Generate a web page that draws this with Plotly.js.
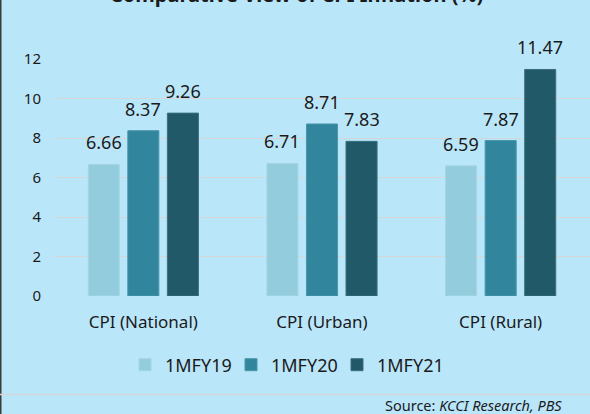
<!DOCTYPE html>
<html>
<head>
<meta charset="utf-8">
<script src="https://cdn.plot.ly/plotly-3.0.1.min.js"></script>
<style>html,body{margin:0;padding:0;background:#bae6fa;}#chart{width:590px;height:414px;}</style>
</head>
<body>
<div id="chart"></div>
<script>
const categories = ['CPI (National)', 'CPI (Urban)', 'CPI (Rural)'];
const seriesNames = ['1MFY19', '1MFY20', '1MFY21'];
const fy19 = [6.66, 6.71, 6.59];
const fy20 = [8.37, 8.71, 7.87];
const fy21 = [9.26, 7.83, 11.47];
const yTicks = [0, 2, 4, 6, 8, 10, 12];
const titleText = 'Comparative View of CPI Inflation (%)';
const sourcePrefix = 'Source: ';
const sourceText = 'KCCI Research, PBS';

const colors = ['#93cddd', '#31859c', '#215968'];
const edge = ['#a6d6e4', '#4a97ab', '#3a6f7d'];
const allSeries = [fy19, fy20, fy21];

const W = 590, H = 414;
const margin = {l: 54, r: 0, t: 59, b: 118};
const plotW = W - margin.l - margin.r;
const plotH = H - margin.t - margin.b;
const bargap = 0.336, bargroupgap = 0.215;
const FONT = '"Noto Sans", "Open Sans", sans-serif';

const px2x = p => (p - margin.l) / plotW;
const px2y = p => (H - margin.b - p) / plotH;

const traces = allSeries.map((vals, i) => ({
  type: 'bar',
  name: seriesNames[i],
  x: categories,
  y: vals,
  marker: {color: colors[i], line: {color: edge[i], width: 1}},
  hoverinfo: 'none'
}));

// data labels via annotations positioned on the data
const catW = plotW / categories.length;
const slot = catW * (1 - bargap) / allSeries.length;
const annotations = [];
allSeries.forEach((vals, i) => {
  vals.forEach((v, j) => {
    annotations.push({
      x: categories[j], y: v, xref: 'x', yref: 'y',
      text: v.toFixed(2), showarrow: false,
      xanchor: 'center', yanchor: 'bottom',
      xshift: (i - (allSeries.length - 1) / 2) * slot,
      yshift: 8,
      font: {family: FONT, size: 18, color: '#1a1a1a'}
    });
  });
});
annotations.push({
  xref: 'paper', yref: 'paper', x: px2x(296), y: px2y(10.5),
  xanchor: 'center', yanchor: 'bottom', showarrow: false,
  text: '<b>' + titleText + '</b>',
  font: {family: FONT, size: 20, color: '#1a1a1a'}
});
annotations.push({
  xref: 'paper', yref: 'paper', x: px2x(564), y: px2y(404.5),
  xanchor: 'right', yanchor: 'middle', showarrow: false,
  text: sourcePrefix + '<i>' + sourceText + '</i>',
  font: {family: FONT, size: 14.5, color: '#1a1a1a'}
});

const layout = {
  width: W, height: H,
  margin: margin,
  paper_bgcolor: '#bae6fa',
  plot_bgcolor: 'rgba(0,0,0,0)',
  barmode: 'group',
  bargap: bargap,
  bargroupgap: bargroupgap,
  showlegend: true,
  legend: {
    orientation: 'h', xref: 'paper', yref: 'paper',
    x: px2x(125), y: px2y(365), xanchor: 'left', yanchor: 'middle',
    entrywidth: 61, entrywidthmode: 'pixels',
    font: {family: FONT, size: 18, color: '#1a1a1a'},
    bgcolor: 'rgba(0,0,0,0)', itemclick: false, itemdoubleclick: false
  },
  xaxis: {
    type: 'category',
    tickfont: {family: FONT, size: 17, color: '#1a1a1a'},
    showgrid: false, showline: false, zeroline: false,
    ticks: '', ticklabelstandoff: 14, fixedrange: true
  },
  yaxis: {
    range: [0, 12],
    tickvals: yTicks,
    ticktext: yTicks.map(String),
    tickfont: {family: FONT, size: 15, color: '#1a1a1a'},
    showgrid: true, gridcolor: '#d6d6d6', gridwidth: 1,
    zeroline: false, showline: false, ticks: '',
    ticklabelstandoff: 12, fixedrange: true
  },
  shapes: [
    {type: 'line', xref: 'paper', yref: 'paper',
     x0: px2x(0.5), x1: px2x(0.5), y0: px2y(0), y1: px2y(H),
     line: {color: '#3c3c3c', width: 2}},
    {type: 'line', xref: 'paper', yref: 'paper',
     x0: px2x(0), x1: px2x(W), y0: px2y(394.5), y1: px2y(394.5),
     line: {color: '#d6d6d6', width: 1.5}}
  ],
  annotations: annotations
};

Plotly.newPlot('chart', traces, layout, {staticPlot: true, displayModeBar: false});
</script>
</body>
</html>
